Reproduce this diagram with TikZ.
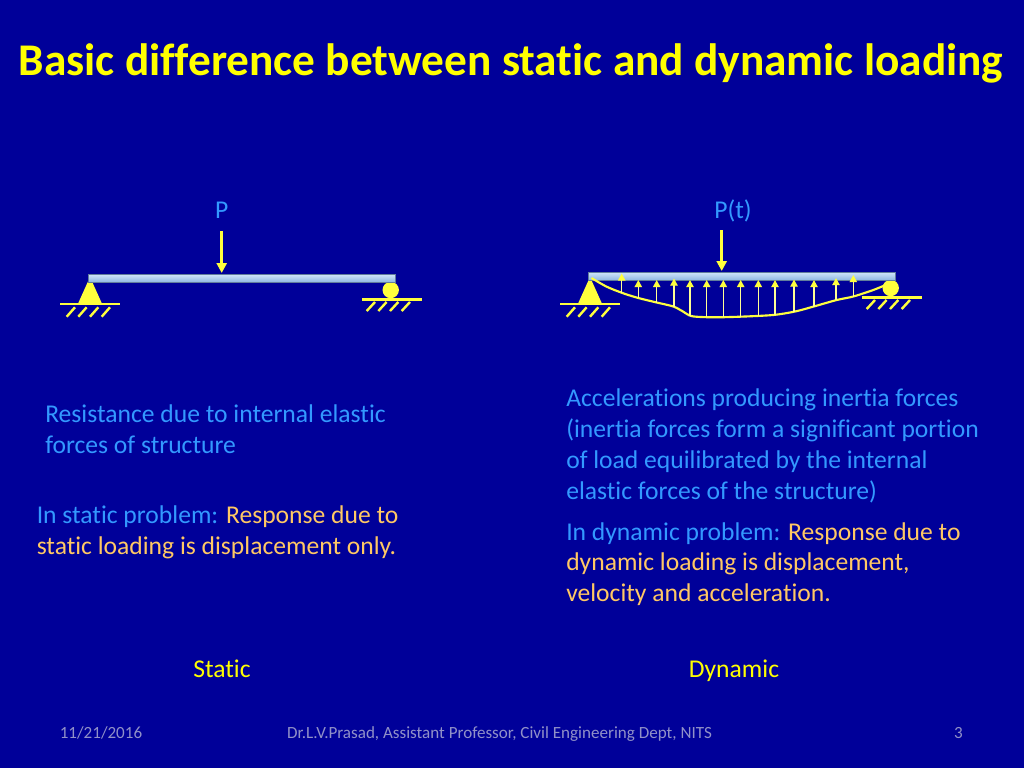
\documentclass[tikz,border=0pt]{standalone}
\usepackage{fontspec}
\setmainfont{Carlito}[Ligatures={NoCommon,NoRare,NoContextual}]
\usetikzlibrary{arrows.meta}
\definecolor{bg}{RGB}{0,0,153}
\definecolor{ttl}{RGB}{255,255,0}
\definecolor{lblue}{RGB}{51,153,255}
\definecolor{orng}{RGB}{255,200,100}
\definecolor{foot}{RGB}{145,145,200}
\definecolor{sup}{RGB}{255,255,60}
\definecolor{beamtop}{RGB}{205,228,250}
\definecolor{beambot}{RGB}{140,180,225}
\tikzset{
  bodytext/.style={anchor=base west,inner sep=0pt,text=lblue,font=\fontsize{19.2}{23}\selectfont},
  centertext/.style={anchor=base,inner sep=0pt,font=\fontsize{19.2}{23}\selectfont},
  foottext/.style={anchor=base,inner sep=0pt,text=foot,font=\fontsize{12.8}{15}\selectfont},
  beamfill/.style={top color=beamtop,bottom color=beambot,draw=beambot!70!black,line width=0.4pt},
  supfill/.style={fill=sup,draw=none},
  ground/.style={draw=sup,line width=2.2pt},
  hatch/.style={draw=sup,line width=1.8pt},
  loadarrow/.style={draw=sup,line width=2.2pt,-{Triangle[length=7.5pt,width=7.5pt]}},
  inertia/.style={draw=sup!55!white,line width=1pt,-{Triangle[length=5.4pt,width=5.6pt,color=sup,fill=sup]}},
  curveline/.style={draw=sup,line width=1.6pt}
}
\newcommand{\mysupports}[2]{%
  \begin{scope}[shift={(#1,0)}]
    % pin support
    \fill[supfill] (90,277) -- (101.7,303) -- (78.3,303) -- cycle;
    \draw[ground] (60,304) -- (120,304);
    \foreach \hx in {66.7,78.3,90,101.7}{\draw[hatch] (\hx,316.7) -- (\hx+8.3,307.3);}
  \end{scope}
  \begin{scope}[shift={(#1,#2)}]
    % roller support
    \fill[supfill] (390.7,290) circle (8.2);
    \draw[ground] (362,299.5) -- (422,299.5);
    \foreach \hx in {366.7,378.3,390,401.7}{\draw[hatch] (\hx,311) -- (\hx+8.3,302);}
  \end{scope}}
\begin{document}
\begin{tikzpicture}[x=0.75pt,y=-0.75pt]
\useasboundingbox (0,0) rectangle (1024,768);
\fill[bg] (0,0) rectangle (1024,768);

% title
\node[anchor=base,inner sep=0pt,text=ttl,font=\fontsize{34}{40}\selectfont\bfseries] (title) at (511,75) {Basic difference between static and dynamic loading};

% ---------- static beam ----------
\mysupports{0}{0}
\draw[beamfill] (88,274.5) rectangle (395,282.5);
\node[centertext,text=lblue] (P) at (221.7,218) {P};
\coordinate (Ptail) at (221.7,231);
\coordinate (Ptip) at (221.7,273);
\draw[loadarrow] (Ptail) -- (Ptip);

% ---------- dynamic beam ----------
\mysupports{500}{-2}
\draw[beamfill] (588,272.5) rectangle (895,280.5);
\node[centertext,text=lblue] (Pt) at (733,218) {P(t)};
\coordinate (Pttail) at (721.7,230);
\coordinate (Pttip) at (721.7,271);
\draw[loadarrow] (Pttail) -- (Pttip);

% deflected shape (inertia force envelope)
\draw[curveline] plot[smooth,tension=0.5] coordinates {(591.5,278) (606.7,286.7) (623.3,293.3) (638.3,298) (656.7,302.5) (673.3,306.5) (683,311.5) (692,316.2) (713,317.3) (740,316.7) (773,315) (795,311.5) (813,306.7) (836.7,300) (853.3,296.5) (873.3,290) (886.7,284.5)};

% inertia force arrows
\foreach \ax/\ab/\at in {621.7/293/273.5, 638.3/298/280, 656.7/302.5/280, 674/306.7/278.5, 690/315.5/280, 706.7/317.3/280, 723.3/317.2/280, 740.7/316.7/280, 758.3/316/280, 775/314.8/280, 794/311.7/279.5, 814/306.5/280, 836/300.3/278, 853.3/296.7/275}{
  \draw[inertia] (\ax,\ab) -- (\ax,\at);
}

% ---------- texts ----------
\node[bodytext] (s1) at (45,422.5) {Resistance due to internal elastic};
\node[bodytext] (s2) at (45,453) {forces of structure};
\node[bodytext] (s3) at (36.5,523.5) {In static problem: \textcolor{orng}{Response due to}};
\node[bodytext,text=orng] (s4) at (36.5,554.5) {static loading is displacement only.};

\node[bodytext] (d1) at (566,406.5) {Accelerations producing inertia forces};
\node[bodytext] (d2) at (566,437.5) {(inertia forces form a significant portion};
\node[bodytext] (d3) at (566,468.3) {of load equilibrated by the internal};
\node[bodytext] (d4) at (566,499) {elastic forces of the structure)};
\node[bodytext] (d5) at (566,540) {In dynamic problem: \textcolor{orng}{Response due to}};
\node[bodytext,text=orng] (d6) at (566,570.8) {dynamic loading is displacement,};
\node[bodytext,text=orng] (d7) at (566,601.7) {velocity and acceleration.};

\node[centertext,text=ttl] (lstatic) at (222,677) {Static};
\node[centertext,text=ttl] (ldyn) at (734,677) {Dynamic};

% ---------- footer ----------
\node[foottext] (date) at (101,738) {11/21/2016};
\node[foottext] (auth) at (499.5,738) {Dr.L.V.Prasad, Assistant Professor, Civil Engineering Dept, NITS};
\node[foottext] (page) at (958.5,738) {3};
\end{tikzpicture}
\end{document}
